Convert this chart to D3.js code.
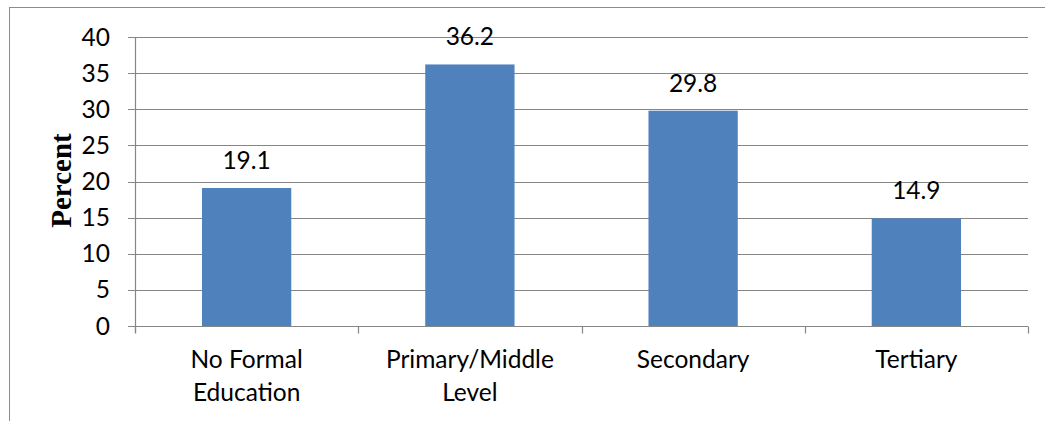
<!DOCTYPE html>
<html>
<head>
<meta charset="utf-8">
<script src="https://cdn.jsdelivr.net/npm/d3@7"></script>
<style>
  html, body { margin: 0; padding: 0; background: #ffffff; }
  svg { display: block; }
  .lbl { font-family: Lato, "Open Sans", sans-serif; font-size: 24.5px; fill: #000; }
  .ytitle { font-family: "Liberation Serif", "Times New Roman", serif; font-weight: bold; font-size: 29px; fill: #000; }
</style>
</head>
<body>
<svg id="chart" width="1045" height="421"></svg>
<script>
// Education level of respondents (percent)
const categories = [["No Formal", "Education"], ["Primary/Middle", "Level"], ["Secondary"], ["Tertiary"]];
const values = [19.1, 36.2, 29.8, 14.9];
const yTicks = [0, 5, 10, 15, 20, 25, 30, 35, 40];
const yTitle = "Percent";

const svg = d3.select("#chart");
const W = 1045, H = 421;
const plot = { left: 135, right: 1028, top: 37, bottom: 326 };
const gridColor = "#868686";

// outer chart frame (clipped by the window on right and bottom)
svg.append("rect")
  .attr("x", 9.5).attr("y", 7.5)
  .attr("width", W + 20).attr("height", H + 20)
  .attr("fill", "none").attr("stroke", "#8c8c8c").attr("stroke-width", 1);

const keys = categories.map(c => c.join(" "));
const x = d3.scaleBand().domain(keys).range([plot.left, plot.right]).padding(0);
const y = d3.scaleLinear().domain([0, 40]).range([plot.bottom, plot.top]);

// horizontal gridlines with short outward ticks
svg.append("g").selectAll("line")
  .data(yTicks.filter(t => t > 0))
  .join("line")
  .attr("x1", plot.left - 7).attr("x2", plot.right)
  .attr("y1", d => Math.round(y(d)) + 0.5).attr("y2", d => Math.round(y(d)) + 0.5)
  .attr("stroke", gridColor).attr("stroke-width", 1.2);

// y tick labels
svg.append("g").selectAll("text")
  .data(yTicks)
  .join("text")
  .attr("class", "lbl")
  .attr("x", 110)
  .attr("y", d => y(d))
  .attr("dy", "0.35em")
  .attr("text-anchor", "end")
  .text(d => d);

// bars
const barW = x.bandwidth() * 0.4;
svg.append("g").selectAll("rect")
  .data(values)
  .join("rect")
  .attr("x", (d, i) => x(keys[i]) + (x.bandwidth() - barW) / 2)
  .attr("y", d => y(d))
  .attr("width", barW)
  .attr("height", d => y(0) - y(d))
  .attr("fill", "#4f81bd");

// data labels
svg.append("g").selectAll("text")
  .data(values)
  .join("text")
  .attr("class", "lbl")
  .attr("x", (d, i) => x(keys[i]) + x.bandwidth() / 2)
  .attr("y", d => y(d) - 19)
  .attr("text-anchor", "middle")
  .text(d => d.toFixed(1));

// y axis line
svg.append("line")
  .attr("x1", plot.left + 0.5).attr("x2", plot.left + 0.5)
  .attr("y1", plot.top).attr("y2", plot.bottom + 7)
  .attr("stroke", gridColor).attr("stroke-width", 1.2);

// x axis line with category boundary ticks
const yAxisPx = Math.round(y(0)) + 0.5;
svg.append("line")
  .attr("x1", plot.left - 7).attr("x2", plot.right)
  .attr("y1", yAxisPx).attr("y2", yAxisPx)
  .attr("stroke", gridColor).attr("stroke-width", 1.2);

const bounds = keys.map(k => x(k)).concat([x(keys[keys.length - 1]) + x.bandwidth()]);
svg.append("g").selectAll("line")
  .data(bounds)
  .join("line")
  .attr("x1", d => Math.round(d) + 0.5).attr("x2", d => Math.round(d) + 0.5)
  .attr("y1", yAxisPx).attr("y2", yAxisPx + 7)
  .attr("stroke", gridColor).attr("stroke-width", 1.2);

// category labels (wrapped)
const cat = svg.append("g").selectAll("text")
  .data(categories)
  .join("text")
  .attr("class", "lbl")
  .attr("text-anchor", "middle")
  .attr("x", (d, i) => x(keys[i]) + x.bandwidth() / 2)
  .attr("y", 368);
cat.selectAll("tspan")
  .data(d => d)
  .join("tspan")
  .attr("x", function () { return d3.select(this.parentNode).attr("x"); })
  .attr("dy", (d, i) => i === 0 ? 0 : 33)
  .text(d => d);

// y axis title
svg.append("text")
  .attr("class", "ytitle")
  .attr("transform", "translate(71,180.5) rotate(-90)")
  .attr("text-anchor", "middle")
  .text(yTitle);
</script>
</body>
</html>
